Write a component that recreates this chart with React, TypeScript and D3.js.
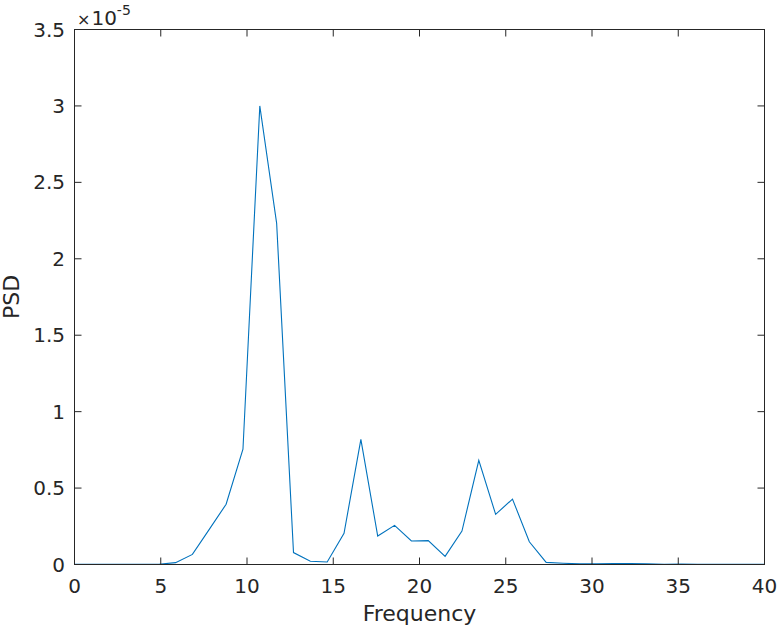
import React from "react";
import * as d3 from "d3";

const binWidth = 1000 / 1024;
const binIndex = [0,1,2,3,4,5,6,7,8,9,10,11,12,13,14,15,16,17,18,19,20,21,22,23,24,25,26,27,28,29,30,31,32,33,34,35,36,37,38,39,40,41];
const psdValues = [0.001,0.0005,0.0005,0.0005,0.0008,0.002,0.012,0.066,0.23,0.394,0.754,3.0,2.232,0.078,0.021,0.016,0.204,0.819,0.186,0.256,0.154,0.156,0.053,0.219,0.682,0.328,0.428,0.149,0.014,0.008,0.004,0.004,0.006,0.007,0.004,0.002,0.003,0.001,0.001,0.001,0.001,0.001];
const xTicks = [0,5,10,15,20,25,30,35,40];
const yTicks = [0,0.5,1,1.5,2,2.5,3,3.5];

export default function App() {
  const W = 779, H = 629;
  const left = 74.5, right = 764.5, top = 29.5, bottom = 564.5;
  const x = d3.scaleLinear().domain([0, 40]).range([left, right]);
  const y = d3.scaleLinear().domain([0, 3.5]).range([bottom, top]);
  const pts: [number, number][] = binIndex.map((k, i) => [k * binWidth, psdValues[i]]);
  const line = d3.line<[number, number]>().x(d => x(d[0])).y(d => y(d[1]));
  const axisColor = "#262626";
  const font = "DejaVu Sans, sans-serif";
  const tl = 7;
  return (
    <svg width={W} height={H} style={{ position: "absolute", left: 0, top: 0, background: "#fff" }} fontFamily={font}>
      <rect x={0} y={0} width={W} height={H} fill="#fff" />
      <defs>
        <clipPath id="pc"><rect x={left} y={top - 2} width={right - left} height={bottom - top + 4} /></clipPath>
      </defs>
      <path d={line(pts) || ""} fill="none" stroke="#0072BD" strokeWidth={1.1} clipPath="url(#pc)" />
      <rect x={left} y={top} width={right - left} height={bottom - top} fill="none" stroke={axisColor} strokeWidth={1} />
      {xTicks.map(t => (
        <g key={"x" + t}>
          <line x1={x(t)} x2={x(t)} y1={bottom} y2={bottom - tl} stroke={axisColor} />
          <line x1={x(t)} x2={x(t)} y1={top} y2={top + tl} stroke={axisColor} />
          <text x={x(t)} y={592.5} textAnchor="middle" fontSize={20} fill={axisColor}>{t}</text>
        </g>
      ))}
      {yTicks.map(t => (
        <g key={"y" + t}>
          <line x1={left} x2={left + tl} y1={y(t)} y2={y(t)} stroke={axisColor} />
          <line x1={right} x2={right - tl} y1={y(t)} y2={y(t)} stroke={axisColor} />
          <text x={65} y={y(t) + 7} textAnchor="end" fontSize={20} fill={axisColor}>{t}</text>
        </g>
      ))}
      <text x={77} y={25} fontSize={20} fill={axisColor}>
        <tspan fontSize={16}>×</tspan>
        <tspan dx={1}>10</tspan>
        <tspan dy={-10} fontSize={14}>-5</tspan>
      </text>
      <text x={419.5} y={621} textAnchor="middle" fontSize={22} fill={axisColor}>Frequency</text>
      <text transform={`translate(19,297) rotate(-90)`} textAnchor="middle" fontSize={22} fill={axisColor}>PSD</text>
    </svg>
  );
}
